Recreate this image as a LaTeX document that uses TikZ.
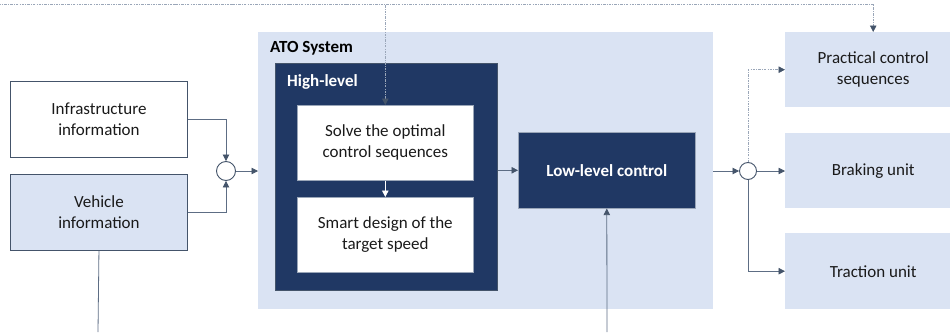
\documentclass[tikz,border=0pt]{standalone}
\usepackage{fontspec}
\setmainfont{Carlito}
\usetikzlibrary{arrows.meta,calc}
\definecolor{lblue}{HTML}{DAE3F3}
\definecolor{navy}{HTML}{203864}
\definecolor{slate}{HTML}{44546A}
\definecolor{lline}{HTML}{5D6D84}
\definecolor{dline}{HTML}{9AA6B8}
\definecolor{txt}{HTML}{1A1A1A}
\begin{document}
\begin{tikzpicture}[x=1pt,y=1pt,
  font=\fontsize{17}{21}\selectfont,
  box/.style={anchor=north west,inner sep=0pt,align=center,text=txt},
  conn/.style={draw=lline,line width=0.8pt,-{Triangle[length=6.5pt,width=6.5pt,fill=slate,color=slate]}},
  plain/.style={draw=lline,line width=0.8pt},
  dotl/.style={draw=dline,line width=0.8pt,dash pattern=on 2.5pt off 1.2pt on 0.8pt off 1.2pt},
  sumc/.style={circle,draw=slate,line width=0.9pt,fill=white,inner sep=0pt}]
\useasboundingbox (0,0) rectangle (950,-332);
\begin{scope}
\clip (0,0) rectangle (950,-332);
% left inputs
\node[box,draw=slate,line width=0.9pt,fill=white,minimum width=177,minimum height=76] (infra) at (10,-81) {Infrastructure\\information};
\node[box,draw=slate,line width=0.9pt,fill=lblue,minimum width=177,minimum height=76] (veh) at (10,-174) {Vehicle\\information};
% ATO system
\node[box,fill=lblue,minimum width=455,minimum height=277] (ato) at (258,-32) {};
\node[anchor=west,inner sep=0pt,font=\fontsize{17}{21}\selectfont\bfseries] (atol) at (270,-48) {ATO System};
\node[box,fill=navy,draw=slate,line width=0.6pt,minimum width=222,minimum height=227] (high) at (275,-63) {};
\node[anchor=west,inner sep=0pt,text=white,font=\fontsize{17}{21}\selectfont\bfseries] (highl) at (287,-82) {High-level};
\node[box,fill=white,draw=dline,line width=0.6pt,minimum width=176,minimum height=75] (solve) at (297,-105) {Solve the optimal\\control sequences};
\node[box,fill=white,draw=dline,line width=0.6pt,minimum width=176,minimum height=75] (smart) at (297,-197) {Smart design of the\\target speed};
\node[box,fill=navy,draw=dline,line width=0.6pt,minimum width=177,minimum height=76,text=white,font=\fontsize{17}{21}\selectfont\bfseries] (low) at (518,-132) {Low-level control};
% outputs
\node[box,fill=lblue,minimum width=176,minimum height=75] (prac) at (785,-32) {Practical control\\sequences};
\node[box,fill=lblue,minimum width=176,minimum height=75] (brake) at (785,-133) {Braking unit};
\node[box,fill=lblue,minimum width=176,minimum height=76] (trac) at (785,-233) {Traction unit};
% summing junctions
\node[sumc,minimum size=19pt] (sum1) at (226,-171) {};
\node[sumc,minimum size=17pt] (sum2) at (748,-171) {};
\coordinate (vbot) at (98,-332);
\coordinate (lbot) at (607,-332);
\coordinate (topy) at (0,-4);
% connectors
\draw[conn] (infra.east) -| (sum1.north);
\draw[conn] (veh.east) -| (sum1.south);
\draw[conn] (sum1.east) -- (ato.west |- sum1.east);
\draw[plain] (veh.south) -- (vbot);
\draw[conn,draw=white,-{Triangle[length=6.5pt,width=6.5pt,fill=white,color=white]}] (solve.south) -- (smart.north);
\draw[conn] (high.east |- low.west) -- (low.west);
\draw[conn] (lbot) -- (low.south);
\draw[conn] (ato.east |- sum2.west) -- (sum2.west);
\draw[conn] (sum2.east) -- (brake.west |- sum2.east);
\draw[conn] (sum2.south) |- (trac.west);
\draw[dotl,-{Triangle[length=6.5pt,width=6.5pt,fill=slate,color=slate]}] (sum2.north) |- (prac.west);
\draw[dotl,{Triangle[length=6.5pt,width=6.5pt,fill=slate,color=slate]}-{Triangle[length=6.5pt,width=6.5pt,fill=slate,color=slate]}] (solve.north) |- (topy) -| (prac.north);
\end{scope}
\end{tikzpicture}
\end{document}
